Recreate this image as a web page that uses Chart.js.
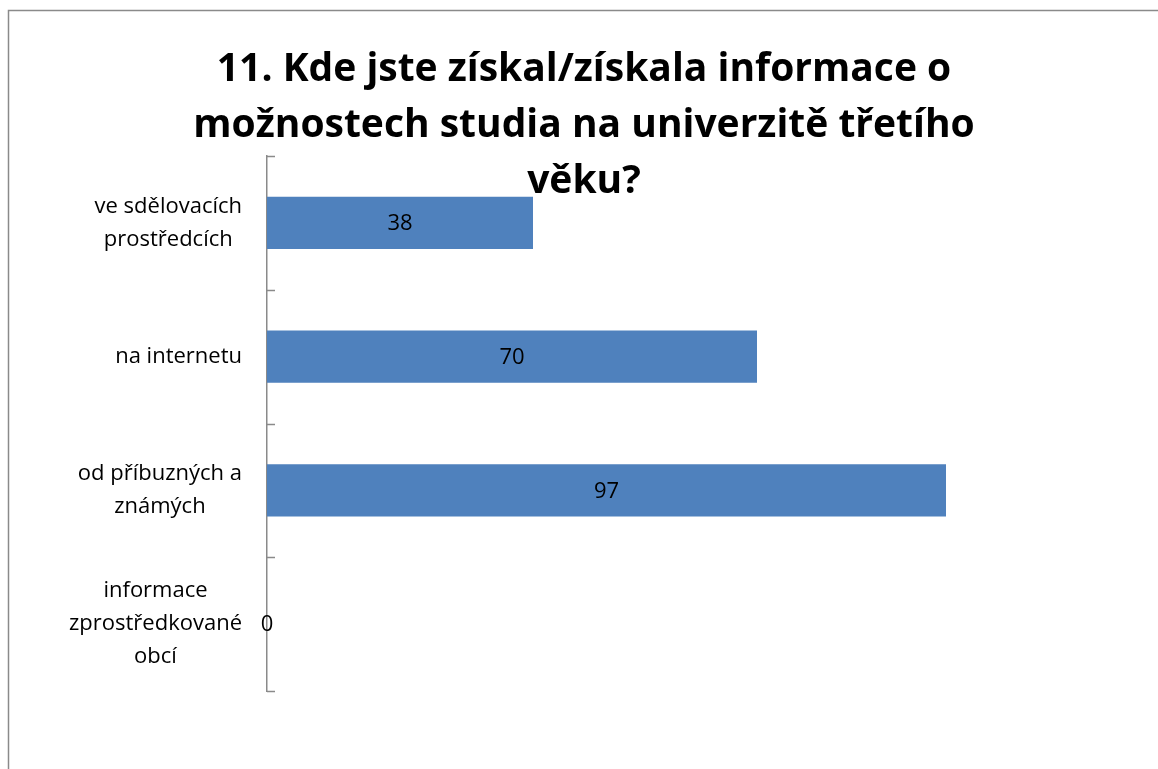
<!DOCTYPE html>
<html>
<head>
<meta charset="utf-8">
<script src="https://cdn.jsdelivr.net/npm/chart.js@4.4.1/dist/chart.umd.min.js"></script>
<style>
  html, body { margin: 0; padding: 0; background: #fff; }
  canvas { display: block; }
</style>
</head>
<body>
<canvas id="chart" width="1158" height="769"></canvas>
<script>
// chart data
const categories = [
    ['ve sdělovacích', 'prostředcích'],
    ['na internetu'],
    ['od příbuzných a', 'známých'],
    ['informace', 'zprostředkované', 'obcí']
];
const values = [38, 70, 97, 0];
const titleLines = [
    '11. Kde jste získal/získala informace o',
    'možnostech studia na univerzitě třetího',
    'věku?'
];

const FONT = '"Open Sans", "DejaVu Sans", sans-serif';

// outer frame + white background
const framePlugin = {
    id: 'frame',
    beforeDraw(chart) {
        const ctx = chart.ctx;
        ctx.save();
        ctx.fillStyle = '#fff';
        ctx.fillRect(0, 0, chart.width, chart.height);
        ctx.strokeStyle = '#8a8a8a';
        ctx.lineWidth = 1.5;
        ctx.strokeRect(8.5, 10.5, 1400, 1000);
        ctx.restore();
    }
};

// category labels: block right-aligned to the axis, lines centered inside
const labelsPlugin = {
    id: 'catLabels',
    afterDraw(chart) {
        const ctx = chart.ctx;
        const y = chart.scales.y;
        ctx.save();
        ctx.font = '22px ' + FONT;
        ctx.fillStyle = '#000';
        ctx.textAlign = 'center';
        ctx.textBaseline = 'middle';
        const lineH = 33;
        categories.forEach((lines, i) => {
            const cy = y.getPixelForValue(i);
            const w = Math.max(...lines.map(l => ctx.measureText(l).width));
            const cx = y.right - 25 - w / 2;
            lines.forEach((l, j) => {
                ctx.fillText(l, cx, cy + (j - (lines.length - 1) / 2) * lineH);
            });
        });
        // short tick marks on the inside of the axis, at category boundaries
        ctx.strokeStyle = '#8a8a8a';
        ctx.lineWidth = 1.5;
        const n = categories.length;
        for (let i = 0; i <= n; i++) {
            const ty = Math.round(y.top + (y.bottom - y.top) * i / n) + 0.5;
            ctx.beginPath();
            ctx.moveTo(y.right, ty);
            ctx.lineTo(y.right + 8, ty);
            ctx.stroke();
        }
        ctx.restore();
    }
};

// value labels centered in each bar
const valuesPlugin = {
    id: 'valueLabels',
    afterDatasetsDraw(chart) {
        const ctx = chart.ctx;
        const meta = chart.getDatasetMeta(0);
        ctx.save();
        ctx.font = '22px ' + FONT;
        ctx.fillStyle = '#000';
        ctx.textAlign = 'center';
        ctx.textBaseline = 'middle';
        meta.data.forEach((bar, i) => {
            ctx.fillText(String(values[i]), (bar.x + bar.base) / 2, bar.y + 1);
        });
        ctx.restore();
    }
};

// title drawn over the plot area like in the original
const titlePlugin = {
    id: 'overTitle',
    afterDraw(chart) {
        const ctx = chart.ctx;
        ctx.save();
        ctx.font = 'bold 39px ' + FONT;
        ctx.fillStyle = '#000';
        ctx.textAlign = 'center';
        ctx.textBaseline = 'middle';
        titleLines.forEach((t, i) => {
            ctx.fillText(t, 584, 70 + i * 56);
        });
        ctx.restore();
    }
};

new Chart(document.getElementById('chart'), {
    type: 'bar',
    data: {
        labels: categories,
        datasets: [{
            data: values,
            backgroundColor: '#4f81bd',
            borderWidth: 0,
            categoryPercentage: 1,
            barPercentage: 0.39
        }]
    },
    options: {
        indexAxis: 'y',
        responsive: false,
        animation: false,
        layout: { padding: { left: 267, top: 156, right: 51, bottom: 78 } },
        scales: {
            x: { display: false, min: 0, max: 120 },
            y: {
                afterFit(scale) { scale.width = 0; },
                ticks: { display: false },
                grid: { display: false },
                border: { display: true, color: '#8a8a8a', width: 1.5 }
            }
        },
        plugins: {
            legend: { display: false },
            title: { display: false },
            tooltip: { enabled: false }
        }
    },
    plugins: [framePlugin, valuesPlugin, labelsPlugin, titlePlugin]
});
</script>
</body>
</html>
